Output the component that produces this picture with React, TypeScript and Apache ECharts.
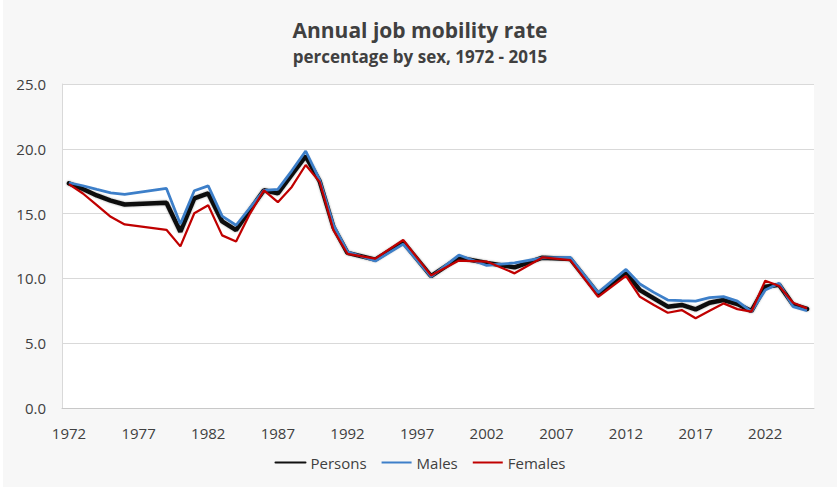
import React, { useEffect, useRef } from "react";
import * as echarts from "echarts";

const YEARS = [
  "1972", "1973", "1974", "1975", "1976", "1977", "1978", "1979", "1980", "1981",
  "1982", "1983", "1984", "1985", "1986", "1987", "1988", "1989", "1990", "1991",
  "1992", "1993", "1994", "1995", "1996", "1997", "1998", "1999", "2000", "2001",
  "2002", "2003", "2004", "2005", "2006", "2007", "2008", "2009", "2010", "2011",
  "2012", "2013", "2014", "2015", "2016", "2017", "2018", "2019", "2020", "2021",
  "2022", "2023", "2024", "2025",
];

const PERSONS = [
  17.33, 16.9, 16.4, 16.0, 15.7, null, null, 15.84, 13.6, 16.17,
  16.56, 14.4, 13.73, 15.3, 16.8, 16.56, 18.0, 19.44, 17.5, 13.94,
  11.97, null, 11.45, null, 12.8, null, 10.17, null, 11.6, null,
  11.2, null, 10.85, null, 11.6, null, 11.5, null, 8.8, null,
  10.45, 9.1, 8.46, 7.82, 7.95, 7.61, 8.12, 8.33, 8.02, 7.48,
  9.36, 9.5, 7.97, 7.64,
];

const MALES = [
  17.38, 17.15, 16.87, 16.6, 16.48, null, null, 16.94, 14.2, 16.76,
  17.14, 14.8, 14.1, 15.45, 16.8, 16.87, 18.3, 19.83, 17.6, 14.1,
  12.06, null, 11.34, null, 12.65, null, 10.13, null, 11.8, null,
  11.0, null, 11.2, null, 11.58, null, 11.62, null, 8.9, null,
  10.7, 9.57, 8.92, 8.33, 8.28, 8.25, 8.51, 8.59, 8.25, 7.43,
  9.1, 9.62, 7.82, 7.51,
];

const FEMALES = [
  17.27, 16.55, 15.65, 14.75, 14.16, null, null, 13.75, 12.47, 15.03,
  15.65, 13.32, 12.85, 15.0, 16.8, 15.88, 17.06, 18.75, 17.45, 13.7,
  11.9, null, 11.53, null, 12.96, null, 10.23, null, 11.38, null,
  11.3, null, 10.39, null, 11.62, null, 11.41, null, 8.58, null,
  10.2, 8.58, 7.95, 7.35, 7.56, 6.92, 7.5, 8.07, 7.63, 7.43,
  9.82, 9.41, 8.12, 7.69,
];

const TITLE = "Annual job mobility rate";
const SUBTITLE = "percentage by sex, 1972 - 2015";
const FONT = "'Open Sans', 'Noto Sans', sans-serif";
const TEXT = "#404040";
const GRID = "#d9d9d9";

export default function App() {
  const ref = useRef<HTMLDivElement>(null);
  useEffect(() => {
    const chart = echarts.init(ref.current as HTMLDivElement, null, { renderer: "svg" });
    chart.setOption({
      animation: false,
      backgroundColor: "#f7f7f7",
      textStyle: { fontFamily: FONT },
      title: [
        {
          text: TITLE,
          left: "center",
          top: 14,
          textStyle: { fontFamily: FONT, fontSize: 21, fontWeight: "bold", color: TEXT },
        },
        {
          text: SUBTITLE,
          left: "center",
          top: 43,
          textStyle: { fontFamily: FONT, fontSize: 17, fontWeight: "bold", color: TEXT },
        },
      ],
      legend: {
        bottom: 12,
        left: "center",
        itemWidth: 30,
        itemHeight: 12,
        itemGap: 14,
        itemStyle: { opacity: 0 },
        textStyle: { fontFamily: FONT, fontSize: 15, color: TEXT },
        data: ["Persons", "Males", "Females"],
      },
      grid: {
        left: 59,
        right: 23,
        top: 84,
        bottom: 79,
        show: true,
        backgroundColor: "#ffffff",
        borderWidth: 0,
      },
      xAxis: {
        type: "category",
        data: YEARS,
        boundaryGap: true,
        axisLine: { show: true, lineStyle: { color: "#c8c8c8", width: 1 } },
        axisTick: { show: false },
        axisLabel: {
          interval: 4,
          margin: 17,
          fontFamily: FONT,
          fontSize: 15,
          color: TEXT,
        },
        splitLine: { show: false },
      },
      yAxis: {
        type: "value",
        min: 0,
        max: 25,
        interval: 5,
        axisLine: { show: true, lineStyle: { color: GRID, width: 1 } },
        axisTick: { show: false },
        axisLabel: {
          margin: 16,
          fontFamily: FONT,
          fontSize: 15,
          color: TEXT,
          formatter: (v: number) => v.toFixed(1),
        },
        splitLine: { show: true, lineStyle: { color: GRID, width: 1 } },
      },
      series: [
        {
          name: "Persons",
          type: "line",
          data: PERSONS,
          connectNulls: true,
          symbol: "none",
          z: 2,
          itemStyle: { color: "#111111" },
          lineStyle: {
            color: "#111111",
            width: 4.5,
            cap: "round",
            shadowColor: "rgba(0,0,0,0.35)",
            shadowBlur: 2,
          },
        },
        {
          name: "Males",
          type: "line",
          data: MALES,
          connectNulls: true,
          symbol: "none",
          z: 3,
          itemStyle: { color: "#3d7fc9" },
          lineStyle: { color: "#3d7fc9", width: 2.75 },
        },
        {
          name: "Females",
          type: "line",
          data: FEMALES,
          connectNulls: true,
          symbol: "none",
          z: 4,
          itemStyle: { color: "#c00000" },
          lineStyle: { color: "#c00000", width: 2.25 },
        },
      ],
    });
    return () => chart.dispose();
  }, []);
  return (
    <div style={{ position: "absolute", left: 0, top: 0, width: 840, height: 490, background: "#ffffff" }}>
      <div
        ref={ref}
        style={{ position: "absolute", left: 3, top: 0, width: 834, height: 487 }}
      />
    </div>
  );
}
